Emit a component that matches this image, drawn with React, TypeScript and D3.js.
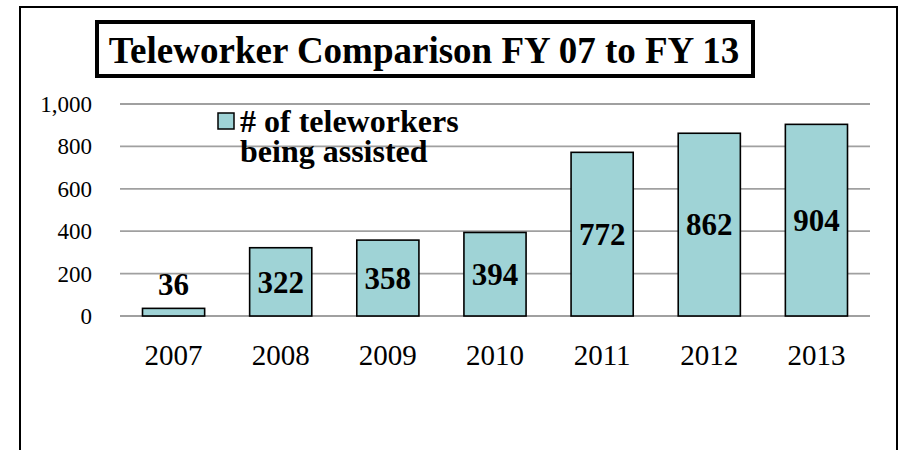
import React from "react";
import * as d3 from "d3";

const years = ["2007", "2008", "2009", "2010", "2011", "2012", "2013"];
const teleworkers = [36, 322, 358, 394, 772, 862, 904];
const yTicks = [0, 200, 400, 600, 800, 1000];
const title = "Teleworker Comparison FY 07 to FY 13";
const legendLines = ["# of teleworkers", "being assisted"];

export default function App() {
  const W = 900, H = 450;
  const x = d3.scaleBand<string>().domain(years).range([120, 870]).paddingInner(0.42).paddingOuter(0.21);
  const y = d3.scaleLinear().domain([0, 1000]).range([316, 104]);
  const fmt = d3.format(",");
  const ff = { fontFamily: "'Liberation Serif', 'Times New Roman', serif" };
  const fill = "#9FD3D6";
  return (
    <svg width={W} height={H} style={{ position: "absolute", left: 0, top: 0 }}>
      <rect x={0} y={0} width={W} height={H} fill="#fff" />
      <path d={`M20,${H + 5} V7 H897 V${H + 5}`} fill="none" stroke="#000" strokeWidth={2} />
      <rect x={97} y={22} width={656} height={54} fill="#fff" stroke="#000" strokeWidth={4} />
      <text x={424} y={63} textAnchor="middle" fontSize={37} fontWeight="bold" style={ff}>{title}</text>
      {yTicks.map((t) => (
        <g key={t}>
          <line x1={120} x2={870} y1={y(t)} y2={y(t)} stroke="#a0a0a0" strokeWidth={1.8} />
          <text x={92} y={y(t)} dy="0.35em" textAnchor="end" fontSize={23} style={ff}>{fmt(t)}</text>
        </g>
      ))}
      {teleworkers.map((v, i) => {
        const bx = x(years[i])!;
        const bw = x.bandwidth();
        const top = y(v);
        const h = y(0) - top;
        const cx = bx + bw / 2;
        const inside = h > 40;
        return (
          <g key={years[i]}>
            <rect x={bx} y={top} width={bw} height={h} fill={fill} stroke="#000" strokeWidth={1.6} />
            <text x={cx} y={inside ? top + h / 2 : top - 13} dy={inside ? "0.35em" : 0} textAnchor="middle" fontSize={31} fontWeight="bold" style={ff}>{v}</text>
            <text x={cx} y={365} textAnchor="middle" fontSize={29} style={ff}>{years[i]}</text>
          </g>
        );
      })}
      <rect x={218} y={113} width={16} height={16} fill={fill} stroke="#000" strokeWidth={1.5} />
      <text x={240} y={132} fontSize={32} fontWeight="bold" style={ff}>{legendLines[0]}</text>
      <text x={240} y={162} fontSize={32} fontWeight="bold" style={ff}>{legendLines[1]}</text>
    </svg>
  );
}
